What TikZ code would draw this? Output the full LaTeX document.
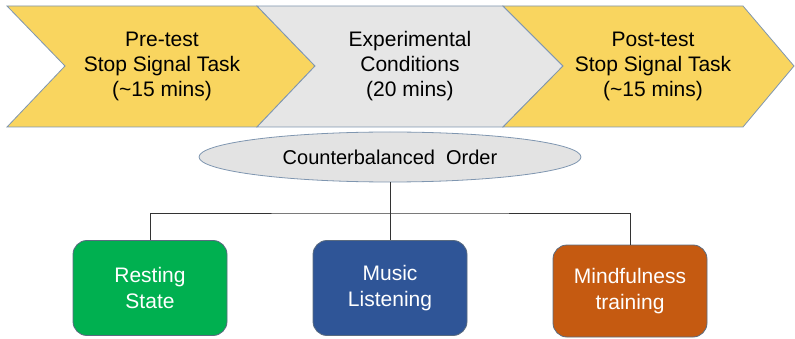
\documentclass[tikz,border=0pt]{standalone}
\usepackage{fontspec}
\setmainfont{Liberation Sans}
\usetikzlibrary{shapes.geometric}
\definecolor{chevY}{HTML}{F9D55F}
\definecolor{chevG}{HTML}{E6E6E6}
\definecolor{edgeB}{HTML}{7F96B0}
\definecolor{ellG}{HTML}{E3E3E3}
\definecolor{boxGreen}{HTML}{00B050}
\definecolor{boxBlue}{HTML}{2F5597}
\definecolor{boxOrange}{HTML}{C55A11}
\definecolor{boxEdge}{HTML}{5A6B80}
\tikzset{
  chev/.style={draw=edgeB, line width=0.8pt},
  chevtext/.style={align=center, font=\fontsize{21}{25}\selectfont, text=black},
  optbox/.style={draw=boxEdge, line width=0.8pt, rounded corners=14pt, minimum width=154pt, minimum height=95pt, align=center, text=white, font=\fontsize{21}{26}\selectfont},
  conn/.style={draw=black!80, line width=0.8pt}
}
\begin{document}
\begin{tikzpicture}[x=1pt,y=-1pt]
\useasboundingbox (0,0) rectangle (795,339);
% chevrons
\draw[chev, fill=chevY] (7,6) -- (257,6) -- (315,66) -- (257,127) -- (7,127) -- (65,66) -- cycle;
\draw[chev, fill=chevG] (257,6) -- (503,6) -- (563,66) -- (503,127) -- (257,127) -- (315,66) -- cycle;
\draw[chev, fill=chevY] (503,6) -- (743,6) -- (794,66) -- (743,127) -- (503,127) -- (563,66) -- cycle;
\node[chevtext] (pre) at (162,66) {Pre-test\\Stop Signal Task\\(\char`\~15 mins)};
\node[chevtext] (exp) at (410,66) {Experimental\\Conditions\\(20 mins)};
\node[chevtext] (post) at (653,66) {Post-test\\Stop Signal Task\\(\char`\~15 mins)};
% ellipse
\node[ellipse, draw=edgeB, fill=ellG, line width=0.8pt, minimum width=382pt, minimum height=50pt, inner sep=0pt, font=\fontsize{20}{24}\selectfont] (cb) at (390,157) {Counterbalanced\ \ Order};
% boxes
\node[optbox, fill=boxGreen] (rest) at (150,288) {Resting\\State};
\node[optbox, fill=boxBlue] (music) at (390,288) {Music\\Listening};
\node[optbox, fill=boxOrange, minimum height=92pt] (mind) at (630,291) {Mindfulness\\training};
% connectors
\coordinate (hub) at (390,213);
\draw[conn] (cb.south) -- (music.north);
\draw[conn] (rest.north) |- (hub) -| (mind.north);
\end{tikzpicture}
\end{document}
